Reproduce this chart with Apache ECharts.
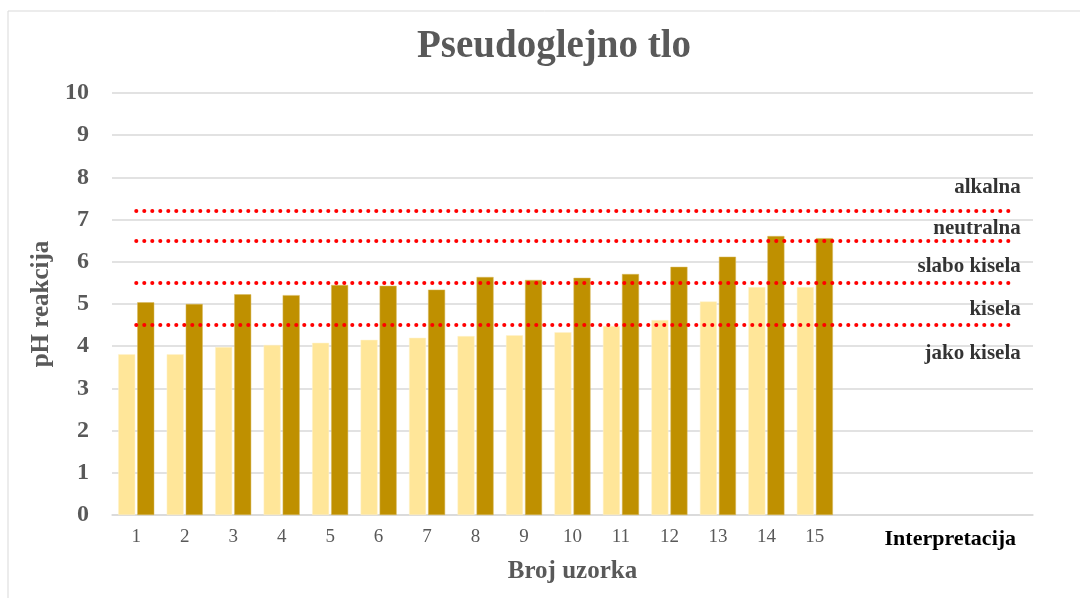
<!DOCTYPE html>
<html>
<head>
<meta charset="utf-8">
<script src="https://cdn.jsdelivr.net/npm/echarts@6/dist/echarts.min.js"></script>
<style>
html,body{margin:0;padding:0;background:#fff;}
#chart{width:1080px;height:598px;}
</style>
</head>
<body>
<div id="chart"></div>
<script>
var categories = ['1','2','3','4','5','6','7','8','9','10','11','12','13','14','15','','','Interpretacija',''];
var seriesLight = [3.81,3.81,3.98,4.03,4.08,4.15,4.20,4.24,4.26,4.33,4.48,4.62,5.06,5.40,5.40];
var seriesDark  = [5.04,5.00,5.23,5.21,5.45,5.43,5.34,5.64,5.57,5.62,5.71,5.88,6.12,6.61,6.56];
var thresholds = [4.5, 5.5, 6.5, 7.2];
var zoneNames = ['alkalna','neutralna','slabo kisela','kisela','jako kisela'];
var zoneLabelY = [7.77, 6.78, 5.88, 4.86, 3.82];
var yTicks = [0,1,2,3,4,5,6,7,8,9,10];

var serif = '"Liberation Serif", "DejaVu Serif", serif';
var chart = echarts.init(document.getElementById('chart'));

var lineStart = 0, lineEnd = 17.9;
var markData = thresholds.map(function(v){
  return [{coord: [lineStart, v]}, {coord: [lineEnd, v]}];
});

var option = {
  animation: false,
  backgroundColor: '#fff',
  graphic: [{
    type: 'rect', shape: {x: 8, y: 11, width: 1100, height: 620},
    style: {fill: 'none', stroke: '#D9D9D9', lineWidth: 1}, z: -10
  }],
  title: {
    text: 'Pseudoglejno tlo', left: 412, top: 22,
    textStyle: {fontFamily: serif, fontSize: 39, fontWeight: 'bold', color: '#595959'}
  },
  grid: {left: 112, right: 47, top: 93, bottom: 83, containLabel: false},
  xAxis: {
    type: 'category', data: categories,
    axisLine: {lineStyle: {color: '#D9D9D9', width: 1.5}},
    axisTick: {show: false},
    axisLabel: {
      interval: 0, margin: 13, fontFamily: serif, fontSize: 19, color: '#595959',
      formatter: function(v){ return v === 'Interpretacija' ? '{b|' + v + '}' : v; },
      rich: {b: {fontFamily: serif, fontSize: 22, fontWeight: 'bold', color: '#000', padding: [0, 20, 0, 0]}}
    },
    name: 'Broj uzorka', nameLocation: 'middle', nameGap: 44,
    nameTextStyle: {fontFamily: serif, fontSize: 25, fontWeight: 'bold', color: '#595959'}
  },
  yAxis: {
    type: 'value', min: yTicks[0], max: yTicks[yTicks.length-1], interval: 1,
    axisLine: {show: false}, axisTick: {show: false},
    splitLine: {lineStyle: {color: '#D9D9D9', width: 1.5}},
    axisLabel: {margin: 23, fontFamily: serif, fontSize: 24, fontWeight: 'bold', color: '#595959'},
    name: 'pH reakcija', nameLocation: 'middle', nameGap: 57, nameRotate: 90,
    nameTextStyle: {fontFamily: serif, fontSize: 25, fontWeight: 'bold', color: '#595959'}
  },
  series: [
    {
      type: 'bar', data: seriesLight, barWidth: 17, barGap: '12%',
      itemStyle: {color: '#FFE699', borderColor: '#FFF2CC', borderWidth: 0.5}
    },
    {
      type: 'bar', data: seriesDark, barWidth: 17,
      itemStyle: {color: '#BF9000', borderColor: '#D9B85C', borderWidth: 0.5}
    },
    {
      type: 'scatter', symbolSize: 0, z: 5,
      data: zoneLabelY.map(function(v, i){ return {value: [18, v], name: zoneNames[i]}; }),
      label: {
        show: true, position: 'left', distance: 0, offset: [12, 0],
        formatter: function(p){ return p.name; },
        fontFamily: serif, fontSize: 21, fontWeight: 'bold', color: '#000'
      },
      markLine: {
        silent: true, symbol: ['none','none'], label: {show: false},
        lineStyle: {color: '#FF0000', width: 4, type: [0.1, 7.9], cap: 'round'},
        data: markData
      },
      silent: true
    }
  ]
};
chart.setOption(option);
</script>
</body>
</html>
